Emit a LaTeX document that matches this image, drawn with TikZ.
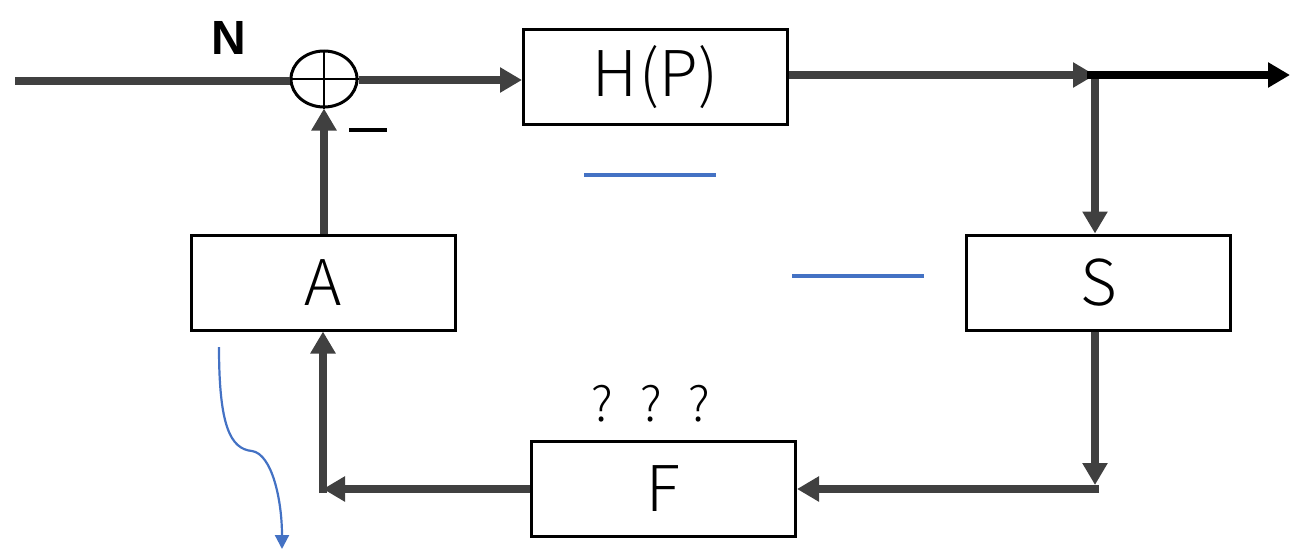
\documentclass[tikz,border=0pt]{standalone}
\usepackage{fontspec}
\setmainfont{Noto Sans CJK JP Light}
\newfontfamily\labelfont{Liberation Sans}
\usetikzlibrary{arrows.meta,shapes.geometric}
\definecolor{sig}{HTML}{404040}
\definecolor{note}{HTML}{4472C4}
\begin{document}
\begin{tikzpicture}[x=1pt,y=-1pt,
  blk/.style={draw=black,line width=3pt,minimum width=264pt,minimum height=95pt,inner sep=0pt,font=\fontsize{63}{68}\selectfont},
  wire/.style={draw=sig,line width=8pt,-{Triangle[length=22pt,width=24pt]}},
  plainwire/.style={draw=sig,line width=8pt},
  bluemark/.style={draw=note,line width=4.5pt}]
\useasboundingbox (0,0) rectangle (1293,549);
% blocks
\node[blk] (H) at (655.5,77) {H\kern2pt(P\kern1pt)};
\node[blk] (S) at (1098.5,282.5) {S};
\node[blk] (F) at (663.5,489) {F};
\node[blk] (A) at (323.5,282.5) {A};
% summing junction
\node[draw=black,line width=3pt,ellipse,minimum width=66pt,minimum height=56pt,inner sep=0pt] (sum) at (324,79) {};
\draw[line width=2.5pt] (sum.north) -- (sum.south) (sum.west) -- (sum.east);
% signal path
\coordinate (in) at (15,81);
\coordinate (br) at (1095,75);
\coordinate (out) at (1290,75);
\coordinate (fr) at (1095,489);
\coordinate (fl) at (323,489);
\draw[plainwire] (in) -- (sum.west |- in);
\draw[wire] (sum.east |- 0,80) -- (H.west |- 0,80);
\draw[wire] (H.east |- br) -- (br);
\draw[draw=black,line width=8pt,-{Triangle[length=22pt,width=24pt]}] ([xshift=-8pt]br) -- (out);
\draw[wire] ([yshift=-4pt]br) -- (S.north -| br);
\draw[wire] (S.south -| fr) -- ([yshift=4pt]fr);
\draw[wire] ([xshift=4pt]fr) -- (F.east);
\draw[wire] (F.west) -- (fl);
\draw[wire] ([yshift=-4pt]fl) -- (A.south -| fl);
\draw[wire] (A.north -| sum) -- (sum.south);
% labels
\node[font=\labelfont\bfseries\fontsize{48}{52}\selectfont] (N) at (229,38) {N};
\draw[line width=4pt] (349,130) coordinate (m1) -- (387,130) coordinate (m2);
\node[font=\fontsize{48}{52}\selectfont] (q) at (651,404) {?\hspace{27pt}?\hspace{27pt}?};
% marks
\draw[bluemark] (584,175) coordinate (b1) -- (716,175) coordinate (b2);
\draw[bluemark] (792,276) coordinate (b3) -- (924,276) coordinate (b4);
\coordinate (c0) at (219,347);
\coordinate (c1) at (252,451);
\coordinate (c2) at (282,549);
\draw[note,line width=2.2pt,-{Triangle[length=14pt,width=14pt]}] (c0) .. controls (219,425) and (230,449) .. (c1) .. controls (272,454) and (282,500) .. (c2);
\end{tikzpicture}
\end{document}
